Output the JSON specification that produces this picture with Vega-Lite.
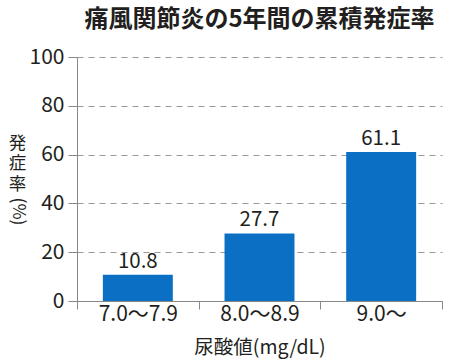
{
  "$schema": "https://vega.github.io/schema/vega-lite/v6.json",
  "autosize": "none",
  "width": 365,
  "height": 244,
  "padding": {"left": 77, "top": 57, "right": 8, "bottom": 59},
  "background": "white",
  "title": {
    "text": "痛風関節炎の5年間の累積発症率",
    "font": "Noto Sans CJK JP",
    "fontSize": 24,
    "fontWeight": "bold",
    "color": "#231f20",
    "anchor": "middle",
    "offset": 14
  },
  "data": {
    "values": [
      {"range": "7.0〜7.9", "rate": 10.8},
      {"range": "8.0〜8.9", "rate": 27.7},
      {"range": "9.0〜", "rate": 61.1}
    ]
  },
  "resolve": {"scale": {"y": "shared"}, "axis": {"y": "independent"}},
  "config": {
    "view": {"stroke": null},
    "font": "Noto Sans CJK JP",
    "axis": {
      "labelFont": "Noto Sans CJK JP",
      "titleFont": "Noto Sans CJK JP",
      "labelColor": "#231f20",
      "titleColor": "#231f20",
      "domainColor": "#888888",
      "tickColor": "#888888",
      "labelFontSize": 21,
      "titleFontSize": 17.5,
      "titleFontWeight": "normal"
    }
  },
  "encoding": {
    "x": {
      "field": "range",
      "type": "nominal",
      "sort": null,
      "scale": {"paddingInner": 0, "paddingOuter": 0},
      "axis": {
        "title": "尿酸値(mg/dL)",
        "labelAngle": 0,
        "labelFontSize": 21,
        "tickBand": "extent",
        "tickSize": 8,
        "labelPadding": -6,
        "titlePadding": 14,
        "titleFontSize": 19.5
      }
    }
  },
  "layer": [
    {
      "mark": {"type": "bar", "color": "#0b70c4", "width": {"band": 0.575}},
      "encoding": {
        "y": {
          "field": "rate",
          "type": "quantitative",
          "scale": {"domain": [0, 100]},
          "axis": {
            "orient": "left",
            "values": [0, 20, 40, 60, 80, 100],
            "title": ["発", "症", "率"],
            "titleAngle": 0,
            "titleAlign": "center",
            "titleBaseline": "middle",
            "titleLineHeight": 20.5,
            "titleX": -60,
            "titleY": 86,
            "tickSize": 9,
            "labelPadding": 4,
            "grid": true,
            "gridDash": [6, 5],
            "gridColor": "#999999",
            "gridWidth": 1
          }
        }
      }
    },
    {
      "mark": {"type": "text", "dy": -13, "fontSize": 20.5, "color": "#231f20", "font": "Noto Sans CJK JP"},
      "encoding": {
        "y": {
          "field": "rate",
          "type": "quantitative",
          "axis": {
            "orient": "left",
            "labels": false,
            "ticks": false,
            "domain": false,
            "grid": false,
            "title": "(%)",
            "titleAngle": 90,
            "titleAlign": "center",
            "titleBaseline": "middle",
            "titleX": -60,
            "titleY": 154
          }
        },
        "text": {"field": "rate", "type": "quantitative", "format": ".1f"}
      }
    }
  ]
}
